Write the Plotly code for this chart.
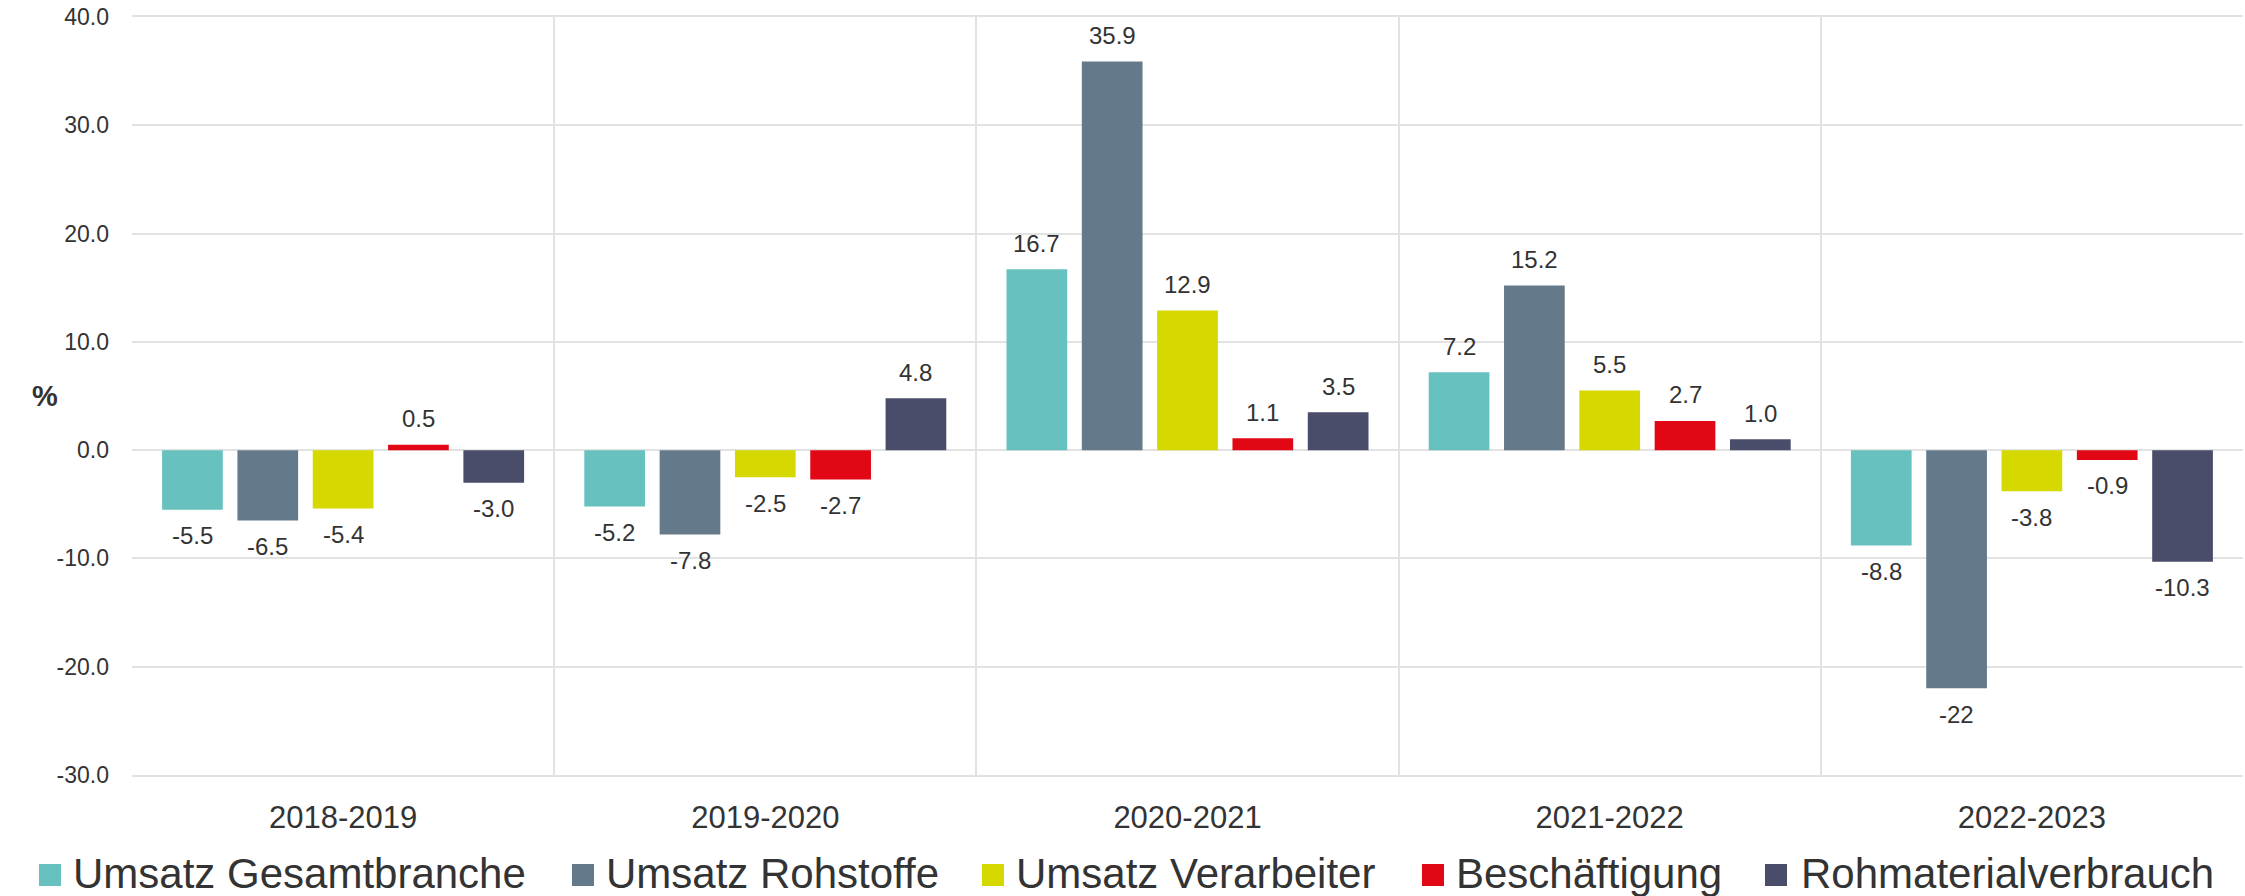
import plotly.graph_objects as go

PERIODS = ["2018-2019", "2019-2020", "2020-2021", "2021-2022", "2022-2023"]

SERIES_NAMES = [
    "Umsatz Gesamtbranche",
    "Umsatz Rohstoffe",
    "Umsatz Verarbeiter",
    "Beschäftigung",
    "Rohmaterialverbrauch",
]

GESAMTBRANCHE = [-5.5, -5.2, 16.7, 7.2, -8.8]
ROHSTOFFE = [-6.5, -7.8, 35.9, 15.2, -22]
VERARBEITER = [-5.4, -2.5, 12.9, 5.5, -3.8]
BESCHAEFTIGUNG = [0.5, -2.7, 1.1, 2.7, -0.9]
ROHMATERIAL = [-3.0, 4.8, 3.5, 1.0, -10.3]

# the source prints the -22 without a decimal
ROHSTOFFE_LABELS = ["-6.5", "-7.8", "35.9", "15.2", "-22"]

Y_TICKS = [-30, -20, -10, 0, 10, 20, 30, 40]

COLORS = ["#67C1BE", "#647A8A", "#D5D900", "#E20714", "#4A4D6A"]
TEXT_COLOR = "#333333"
GRID_COLOR = "#E2E2E2"
FONT = "Liberation Sans, Arial, sans-serif"

# plot area in pixels, used to place the hand made legend
PLOT_LEFT, PLOT_RIGHT, PLOT_TOP, PLOT_BOTTOM = 132, 2243, 17, 775
WIDTH, HEIGHT = 2245, 896


def px_to_paper_x(px):
    return (px - PLOT_LEFT) / (PLOT_RIGHT - PLOT_LEFT)


def px_to_paper_y(py):
    return (PLOT_BOTTOM - py) / (PLOT_BOTTOM - PLOT_TOP)


series_values = [GESAMTBRANCHE, ROHSTOFFE, VERARBEITER, BESCHAEFTIGUNG, ROHMATERIAL]
series_labels = [
    [f"{v:.1f}" for v in GESAMTBRANCHE],
    ROHSTOFFE_LABELS,
    [f"{v:.1f}" for v in VERARBEITER],
    [f"{v:.1f}" for v in BESCHAEFTIGUNG],
    [f"{v:.1f}" for v in ROHMATERIAL],
]

fig = go.Figure()
for name, values, color in zip(SERIES_NAMES, series_values, COLORS):
    fig.add_trace(
        go.Bar(
            x=PERIODS,
            y=values,
            name=name,
            marker={"color": color, "line": {"width": 0}},
            offsetgroup=name,
        )
    )

# value labels: annotations so the gap to the bar end can match the source
n = len(SERIES_NAMES)
annotations = []
for i, (values, labels) in enumerate(zip(series_values, series_labels)):
    for j, (v, lab) in enumerate(zip(values, labels)):
        annotations.append(
            dict(
                x=j,
                y=v,
                xref="x",
                yref="y",
                text=lab,
                showarrow=False,
                xshift=(i - (n - 1) / 2) * 75.3,
                yshift=26 if v >= 0 else -26,
                font={"size": 24, "color": TEXT_COLOR, "family": FONT},
            )
        )

annotations.append(
    dict(
        x=px_to_paper_x(30),
        y=0.5,
        xref="paper",
        yref="paper",
        text="<b>%</b>",
        showarrow=False,
        font={"size": 29, "color": TEXT_COLOR, "family": FONT},
    )
)

# legend drawn by hand: square + label per series
LEGEND_SQUARE_X = [39, 572, 982, 1422, 1765]
LEGEND_TEXT_X = [71, 604, 1014, 1454, 1799]
shapes = []
for name, color, sx, tx in zip(SERIES_NAMES, COLORS, LEGEND_SQUARE_X, LEGEND_TEXT_X):
    shapes.append(
        dict(
            type="rect",
            xref="paper",
            yref="paper",
            x0=px_to_paper_x(sx),
            x1=px_to_paper_x(sx + 22),
            y0=px_to_paper_y(886),
            y1=px_to_paper_y(864),
            fillcolor=color,
            line={"width": 0},
        )
    )
    annotations.append(
        dict(
            x=px_to_paper_x(tx),
            y=px_to_paper_y(873),
            xref="paper",
            yref="paper",
            xanchor="left",
            yanchor="middle",
            text=name,
            showarrow=False,
            font={"size": 42, "color": TEXT_COLOR, "family": FONT},
        )
    )

fig.update_layout(
    width=WIDTH,
    height=HEIGHT,
    barmode="group",
    bargap=0.108,
    bargroupgap=0.194,
    paper_bgcolor="white",
    plot_bgcolor="white",
    showlegend=False,
    margin={"l": PLOT_LEFT, "r": WIDTH - PLOT_RIGHT, "t": PLOT_TOP, "b": HEIGHT - PLOT_BOTTOM},
    font={"family": FONT, "color": TEXT_COLOR},
    annotations=annotations,
    shapes=shapes,
)
fig.update_xaxes(
    type="category",
    automargin=False,
    tickson="boundaries",
    showgrid=True,
    gridcolor=GRID_COLOR,
    gridwidth=2,
    showline=True,
    mirror=True,
    linecolor=GRID_COLOR,
    linewidth=2,
    ticks="",
    tickfont={"size": 31, "color": TEXT_COLOR},
    ticklabelstandoff=14,
)
fig.update_yaxes(
    range=[-30, 40],
    automargin=False,
    tickvals=Y_TICKS,
    ticktext=[f"{t:.1f}" for t in Y_TICKS],
    showgrid=True,
    gridcolor=GRID_COLOR,
    gridwidth=2,
    zeroline=True,
    zerolinecolor=GRID_COLOR,
    zerolinewidth=2,
    ticks="",
    tickfont={"size": 23, "color": TEXT_COLOR},
    ticklabelstandoff=22,
)

# drop the browser's default body margin so the figure sits at the page corner
fig.write_html(
    "out.html",
    config={"displayModeBar": False},
    post_script="document.body.style.margin = '0';",
)
